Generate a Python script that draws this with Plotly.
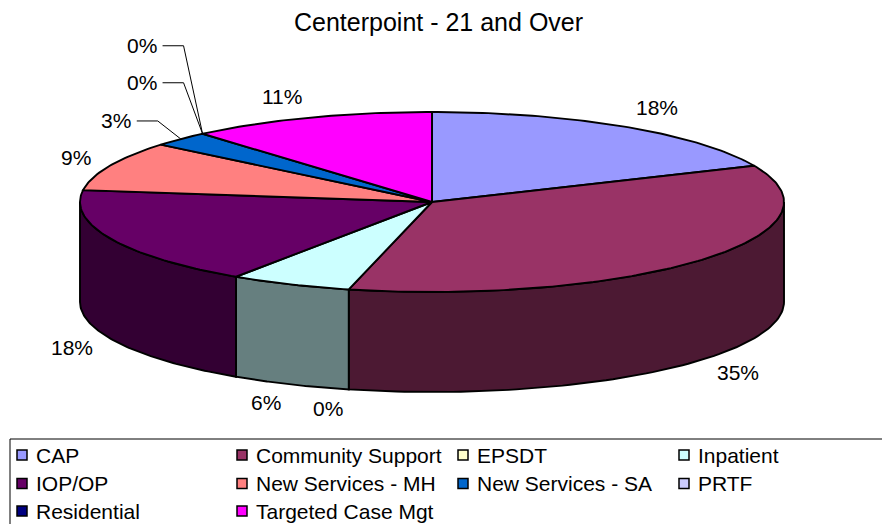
import numpy as np
import plotly.graph_objects as go

# ---------------- data ----------------
title = "Centerpoint - 21 and Over"
categories = ["CAP", "Community Support", "EPSDT", "Inpatient", "IOP/OP",
              "New Services - MH", "New Services - SA", "PRTF", "Residential",
              "Targeted Case Mgt"]
values = [18.4, 35.4, 0.0, 5.6, 17.7, 8.9, 2.7, 0.0, 0.0, 11.3]
colors = ["#9999FF", "#993366", "#FFFFCC", "#CCFFFF", "#660066",
          "#FF8080", "#0066CC", "#CCCCFF", "#000080", "#FF00FF"]

# ---------------- geometry / style ----------------
PAGE_W, PAGE_H = 890, 524
BODY = 8  # default page margin of the HTML body
W, H = PAGE_W - BODY, PAGE_H - BODY
CX, CY, A, B, DEPTH = 432, 202, 352, 90, 100
KX, KY_BACK, KY_FRONT = 1.05, 1.25, 1.22
FONT = "Liberation Sans, Arial, sans-serif"
LW = 1.9
# labels moved out with leader lines: index -> (dx, dy) of label right edge from rim point
leader_offsets = {6: (-48, -18), 7: (-44, -51), 8: (-44, -88)}


def darker(hexc, f=0.5):
    h = hexc.lstrip("#")
    r, g, b = (int(h[i:i + 2], 16) for i in (0, 2, 4))
    return "#%02X%02X%02X" % (int(r * f), int(g * f), int(b * f))


def rim(tdeg):
    t = np.radians(tdeg)
    return CX + A * np.sin(t), CY - B * np.cos(t)


total = float(sum(values))
cum = np.concatenate([[0.0], np.cumsum(values)]) / total * 360.0

fig = go.Figure()

# side walls (front half only: 90..270 degrees clockwise from top)
for i, v in enumerate(values):
    if v <= 0:
        continue
    s0, s1 = max(cum[i], 90.0), min(cum[i + 1], 270.0)
    if s1 <= s0:
        continue
    ts = np.linspace(s0, s1, 80)
    xt, yt = rim(ts)
    xs = np.concatenate([xt, xt[::-1], xt[:1]])
    ys = np.concatenate([yt, yt[::-1] + DEPTH, yt[:1]])
    fig.add_trace(go.Scatter(x=xs, y=ys, mode="lines", fill="toself",
                             fillcolor=darker(colors[i]),
                             line=dict(color="black", width=LW),
                             hoverinfo="skip", showlegend=False))

# top faces
for i, v in enumerate(values):
    if v <= 0:
        continue
    ts = np.linspace(cum[i], cum[i + 1], max(8, int(v * 4)))
    xt, yt = rim(ts)
    xs = np.concatenate([[CX], xt, [CX]])
    ys = np.concatenate([[CY], yt, [CY]])
    fig.add_trace(go.Scatter(x=xs, y=ys, mode="lines", fill="toself",
                             fillcolor=colors[i],
                             line=dict(color="black", width=LW),
                             name=categories[i], hoverinfo="name",
                             showlegend=False))

# percentage labels
annotations = []
for i, v in enumerate(values):
    mid = (cum[i] + cum[i + 1]) / 2.0
    txt = "%d%%" % round(v / total * 100)
    t = np.radians(mid)
    s, c = np.sin(t), np.cos(t)
    if i in leader_offsets:
        rx, ry = rim(mid)
        dx, dy = leader_offsets[i]
        lx, ly = rx + dx, ry + dy
        fig.add_trace(go.Scatter(x=[rx, lx + 25, lx + 4], y=[ry, ly, ly],
                                 mode="lines", line=dict(color="black", width=1),
                                 hoverinfo="skip", showlegend=False))
        annotations.append(dict(x=lx, y=ly, text=txt, xanchor="right",
                                yanchor="middle", showarrow=False,
                                font=dict(size=21, color="black", family=FONT)))
        continue
    x = CX + KX * A * s
    if c < 0:
        y = CY - KY_FRONT * B * c + DEPTH
    else:
        y = CY - KY_BACK * B * c
    annotations.append(dict(x=x, y=y, text=txt,
                            xanchor="left" if s >= 0 else "right",
                            yanchor="middle", showarrow=False,
                            font=dict(size=21, color="black", family=FONT)))

# title
annotations.append(dict(x=438, y=22, text=title, xanchor="center", yanchor="middle",
                        showarrow=False, font=dict(size=25, color="black", family=FONT)))

# legend (manual, 4 columns)
col_x = [22, 242, 463, 684]
row_y = [455, 483.5, 511]
lx_, ly_ = [], []
for i, cat in enumerate(categories):
    cx_, cy_ = col_x[i % 4], row_y[i // 4]
    lx_.append(cx_)
    ly_.append(cy_)
    annotations.append(dict(x=cx_ + 12, y=cy_, text=cat, xanchor="left",
                            yanchor="middle", showarrow=False,
                            font=dict(size=21, color="black", family=FONT)))
fig.add_trace(go.Scatter(x=lx_, y=ly_, mode="markers",
                         marker=dict(symbol="square", size=10, color=colors,
                                     line=dict(color="black", width=1.5)),
                         hoverinfo="skip", showlegend=False))

shapes = [dict(type="rect", xref="x", yref="y", x0=10, y0=439, x1=887, y1=560,
               line=dict(color="black", width=1), fillcolor="rgba(0,0,0,0)",
               layer="below")]

fig.update_layout(
    width=W, height=H,
    margin=dict(l=0, r=0, t=0, b=0),
    paper_bgcolor="white", plot_bgcolor="white",
    xaxis=dict(range=[BODY, PAGE_W], visible=False, fixedrange=True),
    yaxis=dict(range=[PAGE_H, BODY], visible=False, fixedrange=True),
    annotations=annotations,
    shapes=shapes,
    showlegend=False,
)

fig.write_html("out.html")
